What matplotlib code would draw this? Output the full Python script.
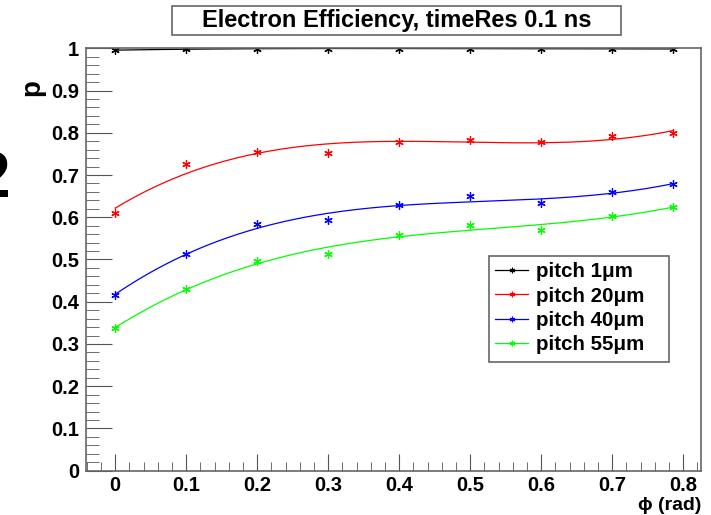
import numpy as np
import matplotlib
matplotlib.use("Agg")
import matplotlib.pyplot as plt
from matplotlib.patches import Rectangle
from matplotlib.ticker import MultipleLocator, FormatStrFormatter

plt.rcParams["font.family"] = ["Liberation Sans", "DejaVu Sans"]
plt.rcParams["font.weight"] = "bold"

# angle values (rad)
phi = [0.0, 0.1, 0.2, 0.3, 0.4, 0.5, 0.6, 0.7, 0.785]

# efficiency per pitch
p_1um = [0.995, 0.999, 0.999, 0.999, 0.999, 0.999, 0.999, 0.999, 0.998]
p_20um = [0.610, 0.726, 0.754, 0.753, 0.779, 0.783, 0.777, 0.792, 0.799]
p_40um = [0.416, 0.513, 0.584, 0.593, 0.629, 0.650, 0.633, 0.660, 0.679]
p_55um = [0.338, 0.429, 0.497, 0.514, 0.559, 0.582, 0.570, 0.604, 0.624]

labels = ["pitch 1\u03bcm", "pitch 20\u03bcm", "pitch 40\u03bcm", "pitch 55\u03bcm"]
colors = ["black", "#ff0000", "#0000ff", "#00ff00"]

fig = plt.figure(figsize=(7.11, 5.15), dpi=100)
ax = fig.add_axes([86 / 711, 1 - 470.7 / 515, 615 / 711, 422.4 / 515])

asterisk = (6, 2, 0)
xfit = np.linspace(0, phi[-1], 200)
for y, c, lab in zip([p_1um, p_20um, p_40um, p_55um], colors, labels):
    coef = np.polyfit(phi, y, 3)
    ax.plot(xfit, np.polyval(coef, xfit), color=c, lw=0.9)
    ax.plot(phi, y, ls="none", marker=asterisk, ms=6, mew=0.9, color=c)
    # legend handle
    ax.plot([], [], color=c, lw=0.9, marker=asterisk, ms=4, mew=0.8, label=lab)

ax.set_xlim(-0.041, 0.825)
ax.set_ylim(0, 1.0)
ax.xaxis.set_major_locator(MultipleLocator(0.1))
ax.xaxis.set_minor_locator(MultipleLocator(0.02))
ax.yaxis.set_major_locator(MultipleLocator(0.1))
ax.yaxis.set_minor_locator(MultipleLocator(0.02))
ax.xaxis.set_major_formatter(FormatStrFormatter("%g"))
ax.yaxis.set_major_formatter(FormatStrFormatter("%g"))
ax.tick_params(which="both", direction="in", color="#555555", top=False, right=False)
ax.tick_params(axis="y", which="major", length=19, labelsize=14.5, pad=5)
ax.tick_params(axis="y", which="minor", length=9.5)
ax.tick_params(axis="x", which="major", length=12.5, labelsize=14.5, pad=4)
ax.tick_params(axis="x", which="minor", length=6.5)
for s in ax.spines.values():
    s.set_color("#666666")
    s.set_linewidth(1.2)

fig.text(701 / 711, 1 - 506 / 515, "\u03d5 (rad)", fontsize=14, fontweight="bold",
         ha="right", va="center")
fig.text(32 / 711, 1 - 88 / 515, "p", rotation=90, fontsize=20, fontweight="bold",
         ha="center", va="center")

# title box
fig.patches.append(Rectangle((172 / 711, 1 - 35 / 515), 449 / 711, 29 / 515,
                             transform=fig.transFigure, fill=False,
                             edgecolor="#666666", lw=1.2))
fig.text(396.5 / 711, 1 - 21 / 515, "Electron Efficiency, timeRes 0.1 ns",
         fontsize=17, fontweight="bold", ha="center", va="center")

# clipped glyph at the left edge
fig.text(10 / 711, 1 - 180 / 515, "2", fontsize=46, fontweight="bold",
         ha="right", va="center")

# legend box drawn separately (wider than the entries, as in ROOT)
ax.add_patch(Rectangle((489 / 711, 1 - 362 / 515), 180 / 711, 106 / 515,
                       transform=fig.transFigure, facecolor="white",
                       edgecolor="#666666", lw=1.2, zorder=4, clip_on=False))
leg = ax.legend(loc="upper left", bbox_to_anchor=(489 / 711, 1 - 256 / 515),
                bbox_transform=fig.transFigure, borderaxespad=0, frameon=False,
                fontsize=14.8, handlelength=1.6, labelspacing=0.26, handletextpad=0.4,
                borderpad=0.3)
leg.set_zorder(6)
for t in leg.get_texts():
    t.set_fontweight("bold")

fig.savefig("out.png", dpi=100)
